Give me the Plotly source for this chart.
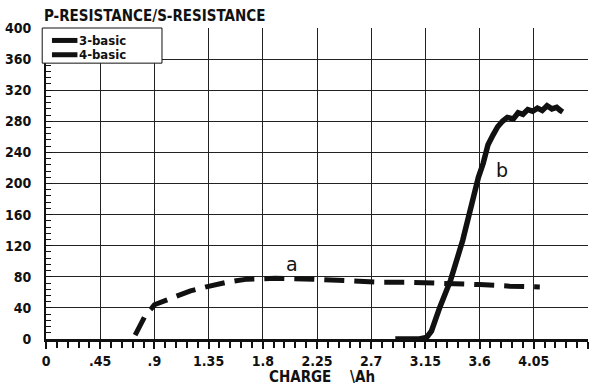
import plotly.graph_objects as go

# Charge (Ah) vs P-resistance / S-resistance for the two samples
charge_b = [2.9, 3.1, 3.16, 3.2, 3.27, 3.36, 3.46, 3.52, 3.59, 3.63, 3.67, 3.71, 3.75,
            3.79, 3.83, 3.88, 3.92, 3.96, 4.0, 4.04, 4.08, 4.12, 4.16, 4.2, 4.24, 4.27, 4.29]
ratio_b = [0, 0, 2, 10, 41, 76, 127, 166, 208, 226, 250, 262, 273,
           280, 285, 283, 291, 289, 295, 293, 297, 294, 300, 296, 298, 294, 292]

charge_a = [0.74, 0.78, 0.83, 0.88, 0.9, 1.0, 1.1, 1.2, 1.33, 1.5, 1.67, 1.9, 2.22,
            2.5, 2.77, 3.0, 3.33, 3.6, 3.85, 4.1]
ratio_a = [5, 18, 32, 40, 44, 50, 56, 62, 67, 73, 77, 78, 77,
           75, 73, 73, 72, 70, 68, 67]

x_ticks = [0, 0.45, 0.9, 1.35, 1.8, 2.25, 2.7, 3.15, 3.6, 4.05, 4.5]
x_tick_text = ["0", ".45", ".9", "1.35", "1.8", "2.25", "2.7", "3.15", "3.6", "4.05", "4.5"]
y_ticks = [0, 40, 80, 120, 160, 200, 240, 280, 320, 360, 400]

legend_names = ["3-basic", "4-basic"]
curve_labels = [("a", 2.04, 96), ("b", 3.79, 217)]

FONT = "DejaVu Sans Condensed, Liberation Sans Narrow, sans-serif"
INK = "#111111"

fig = go.Figure()

fig.add_trace(go.Scatter(
    x=charge_b, y=ratio_b, mode="lines", name=legend_names[0], showlegend=False,
    line=dict(color=INK, width=5.5),
))
fig.add_trace(go.Scatter(
    x=charge_a, y=ratio_a, mode="lines", name=legend_names[1], showlegend=False,
    line=dict(color=INK, width=5, dash="20px,10px"),
))

for text, cx, cy in curve_labels:
    fig.add_annotation(x=cx, y=cy, text=text, showarrow=False,
                       font=dict(family="DejaVu Sans", size=19, color=INK))

# boxed key in the upper-left corner of the plot
fig.add_shape(type="rect", xref="paper", yref="paper",
              x0=-0.007, x1=0.214, y0=0.887, y1=1.0,
              line=dict(color=INK, width=1), fillcolor="white", layer="above")
for name, ky in zip(legend_names, [0.960, 0.914]):
    fig.add_shape(type="line", xref="paper", yref="paper",
                  x0=0.011, x1=0.058, y0=ky, y1=ky,
                  line=dict(color=INK, width=5), layer="above")
    fig.add_annotation(xref="paper", yref="paper", x=0.059, y=ky, xanchor="left",
                       yanchor="middle", showarrow=False, text=name, borderpad=0,
                       font=dict(family=FONT, size=13, color=INK, weight="bold"))

fig.add_annotation(xref="paper", yref="paper", x=-0.007, y=1.0, xanchor="left",
                   yanchor="bottom", yshift=1, showarrow=False,
                   text="P-RESISTANCE/S-RESISTANCE",
                   font=dict(family=FONT, size=15, color=INK, weight="bold"))

fig.add_annotation(xref="paper", yref="paper", x=0.51, y=0, xanchor="center",
                   yanchor="top", yshift=-27, showarrow=False,
                   text="CHARGE&nbsp;&nbsp;&nbsp;&nbsp;\\Ah",
                   font=dict(family=FONT, size=15, color=INK, weight="bold"))

fig.update_xaxes(
    range=[0, 4.5], tickvals=x_ticks, ticktext=x_tick_text,
    showgrid=True, gridcolor="#222222", gridwidth=1,
    showline=True, linecolor=INK, linewidth=3,
    ticks="outside", ticklen=7, tickwidth=1.5, tickcolor=INK,
    minor=dict(dtick=0.09, tick0=0, ticks="outside", ticklen=6, tickwidth=1.5,
               tickcolor=INK, showgrid=False),
    tickfont=dict(family=FONT, size=14, color=INK, weight="bold"),
    zeroline=False, fixedrange=True, automargin=False,
)
fig.update_yaxes(
    range=[0, 400], tickvals=y_ticks,
    showgrid=True, gridcolor="#222222", gridwidth=1,
    showline=True, linecolor=INK, linewidth=2,
    ticks="inside", ticklen=6, tickwidth=1, tickcolor=INK,
    minor=dict(dtick=8, tick0=0, ticks="inside", ticklen=5, tickwidth=1,
               tickcolor=INK, showgrid=False),
    tickfont=dict(family=FONT, size=14, color=INK, weight="bold"),
    ticklabelstandoff=10,
    zeroline=False, fixedrange=True, automargin=False,
)

fig.update_layout(
    width=598, height=387,
    margin=dict(l=46, r=10, t=28, b=48),
    paper_bgcolor="white", plot_bgcolor="white",
    showlegend=False,
)

fig.write_html("out.html")
